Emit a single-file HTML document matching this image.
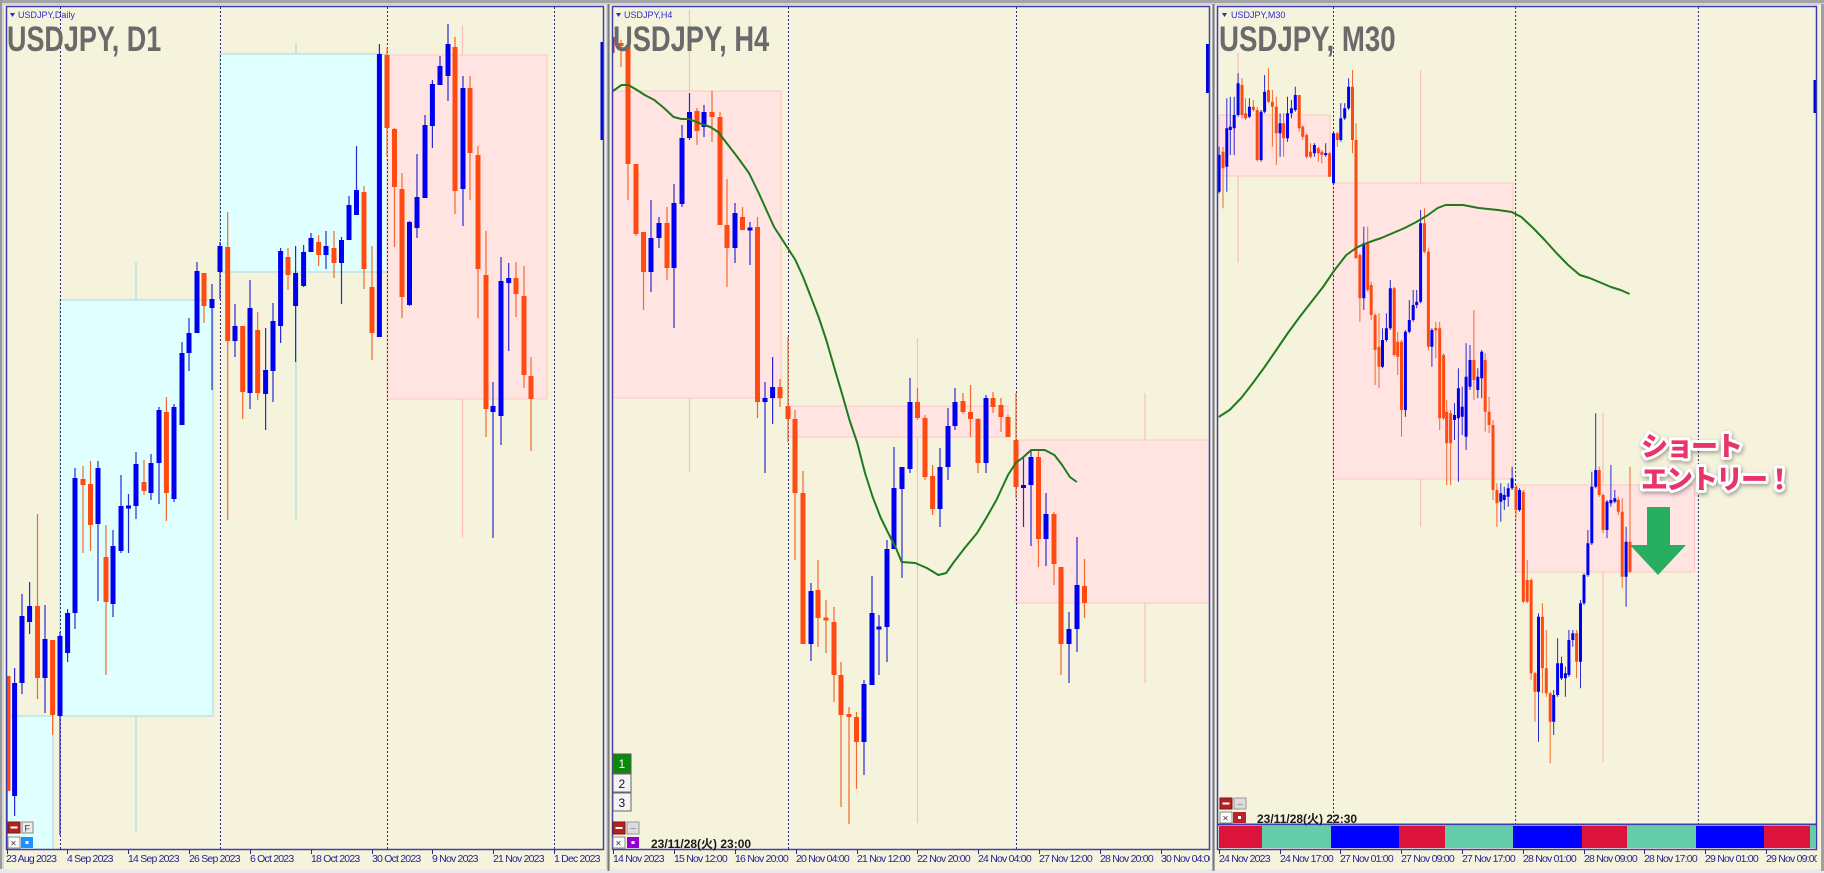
<!DOCTYPE html>
<html><head><meta charset="utf-8"><style>
html,body{margin:0;padding:0;background:#d6d6d6;}
svg{display:block;}
.ax{font-family:"Liberation Sans",sans-serif;font-size:10.5px;fill:#23239b;letter-spacing:-0.8px;}
.st{font-family:"Liberation Sans",sans-serif;font-size:9px;fill:#2b2bd0;}
.bt{font-family:"Liberation Sans",sans-serif;font-size:35px;font-weight:bold;fill:#6a6a6a;}
.dt{font-family:"Liberation Sans","Noto Sans CJK JP",sans-serif;font-size:12px;font-weight:bold;fill:#1a1a1a;}
.jp{font-family:"Noto Sans CJK JP","Liberation Sans",sans-serif;font-size:27px;font-weight:900;fill:#e8336b;stroke:#fff;stroke-width:6px;stroke-linejoin:round;paint-order:stroke;letter-spacing:-2px;}
</style></head><body>
<svg width="1824" height="873" viewBox="0 0 1824 873" xmlns="http://www.w3.org/2000/svg">
<defs>
<clipPath id="c1"><rect x="6" y="7" width="597" height="842"/></clipPath>
<clipPath id="c2"><rect x="612" y="7" width="598" height="842"/></clipPath>
<clipPath id="c3"><rect x="1217" y="7" width="600" height="817"/></clipPath>
<clipPath id="l2"><rect x="612" y="849" width="598" height="22"/></clipPath>
<clipPath id="l3"><rect x="1217" y="849" width="600" height="22"/></clipPath>
</defs>
<rect x="0" y="0" width="1824" height="873" fill="#d6d6d6"/>
<rect x="0" y="0" width="1824" height="3" fill="#a4a4a4"/>
<rect x="0" y="0" width="2" height="873" fill="#9a9a9a"/>
<rect x="0" y="869" width="1824" height="4" fill="#e9e9e9"/>
<rect x="4" y="5" width="602" height="864" fill="#f5f3dc"/>
<rect x="610" y="5" width="602" height="864" fill="#f5f3dc"/>
<rect x="1215" y="5" width="606" height="864" fill="#f5f3dc"/>
<rect x="607.5" y="4" width="2" height="867" fill="#7c7c7c"/>
<rect x="1212.5" y="4" width="2" height="867" fill="#7c7c7c"/>
<rect x="1821" y="4" width="3" height="867" fill="#a0a0a0"/>

<!-- PANEL 1 D1 -->
<g clip-path="url(#c1)">
<rect x="6" y="716" width="47" height="140" fill="#e0ffff" stroke="#a6d9df"/>
<rect x="60" y="300" width="153" height="416" fill="#e0ffff" stroke="#a6d9df"/>
<rect x="220" y="54" width="167" height="218" fill="#e0ffff" stroke="#a6d9df"/>
<rect x="387" y="55" width="160" height="344" fill="#ffe4e1" stroke="#ffc6c6"/>
<path d="M136 262V300M136 716V832M296 44V54M296 272V520" stroke="#a6d9df" stroke-width="1.2"/>
<path d="M462.5 25V55M462.5 399V538" stroke="#ffbcbc" stroke-width="1.2"/>
<path d="M60.5 7V849M220.5 7V849M387.5 7V849M554.5 7V849" stroke="#2a2a80" stroke-width="1" stroke-dasharray="2 2"/>
<path d="M7 676V849" stroke="#c03030" stroke-width="1.5"/>
<path d="M37.5 514V699M52.6 640V735M83 466V553M90.5 461V551M106 525V675M144 460V495M166.4 397V521M204 273V323M227.7 212V520M242.7 326V419M257.7 312V400M288 248V290M318.6 235V266M334 231V278M364 186V289M372 246V360M387 47V157M394.5 128V247M402 173V318M455 37V214M470 76V200M478 146V318M486 231V437M516 262V317M524 266V388M531 357V451" stroke="#f26a2e" stroke-width="1.2"/>
<path d="M5.5 676h5V791h-5zM35 606h5V678h-5zM50.1 640h5V715h-5zM80.5 479h5V485h-5zM88 484h5V525h-5zM103.5 557h5V602h-5zM141.5 482h5V491h-5zM163.9 412h5V493h-5zM201.5 273h5V306h-5zM225.2 247h5V341h-5zM240.2 326h5V392h-5zM255.2 330h5V393h-5zM285.5 257h5V275h-5zM316.1 242h5V255h-5zM331.5 248h5V263h-5zM361.5 192h5V269h-5zM369.5 287h5V333h-5zM384.5 55h5V128h-5zM392 129h5V187h-5zM399.5 189h5V297h-5zM452.5 47h5V191h-5zM467.5 88h5V153h-5zM475.5 155h5V269h-5zM483.5 275h5V409h-5zM513.5 278h5V294h-5zM521.5 296h5V375h-5zM528.5 376h5V399h-5z" fill="#ff4a12"/>
<path d="M14.6 668V816M22 594V694M29.6 582V634M45 605V713M60 632V835M67.6 609V662M75 468V629M98 461V601M113 530V617M121 475V553M128.5 494V553M136 452V519M151 454V500M159 407V504M174 404V502M182 342V425M189 318V371M197 262V333M212 284V390M220 242V299M235 304V357M250 280V409M265.6 328V430M273 303V402M280.6 248V343M295.6 246V362M303.6 245V287M311 233V252M326 231V269M341.5 237V304M349 196V240M356.5 146V215M379.4 44V337M409.5 221V306M417 154V238M425 115V198M432.4 80V148M440 56V85M448 24V101M463 76V226M493 382V538M501 257V445M508.7 263V351" stroke="#2a2ad0" stroke-width="1.2"/>
<path d="M12.1 683h5V796h-5zM19.5 616h5V683h-5zM27.1 606h5V622h-5zM42.5 639h5V678h-5zM57.5 636h5V716h-5zM65.1 613h5V653h-5zM72.5 478h5V613h-5zM95.5 468h5V524h-5zM110.5 546h5V604h-5zM118.5 506h5V551h-5zM126 505.5h5V508.5h-5zM133.5 464h5V506h-5zM148.5 463h5V493h-5zM156.5 410h5V463h-5zM171.5 407h5V499h-5zM179.5 353h5V425h-5zM186.5 333h5V353h-5zM194.5 271h5V333h-5zM209.5 299h5V308h-5zM217.5 246h5V272h-5zM232.5 326h5V341h-5zM247.5 308h5V393h-5zM263.1 370h5V394h-5zM270.5 321h5V371h-5zM278.1 251h5V326h-5zM293.1 273h5V306h-5zM301.1 252h5V286h-5zM308.5 238h5V252h-5zM323.5 246h5V255h-5zM339 240h5V263h-5zM346.5 205h5V240h-5zM354 190h5V215h-5zM376.9 54h5V337h-5zM407 222h5V305h-5zM414.5 197h5V228h-5zM422.5 125h5V198h-5zM429.9 84h5V126h-5zM437.5 66h5V85h-5zM445.5 44h5V76h-5zM460.5 88h5V189h-5zM490.5 406h5V412h-5zM498.5 281h5V416h-5zM506.2 278h5V283h-5z" fill="#0000f0"/>
<rect x="600.5" y="42" width="3" height="98" fill="#0000e0"/>
</g>
<rect x="6.5" y="6.5" width="597" height="843" fill="none" stroke="#3e3eae" stroke-width="1.5"/>

<!-- PANEL 2 H4 -->
<g clip-path="url(#c2)">
<rect x="613" y="91" width="168" height="307" fill="#ffe4e1" stroke="#ffc6c6"/>
<rect x="788" y="406" width="220" height="31" fill="#ffe4e1" stroke="#ffc6c6"/>
<rect x="1016" y="440" width="194" height="163" fill="#ffe4e1" stroke="#ffc6c6"/>
<path d="M689.5 10V91M689.5 398V472M917.5 338V406M917.5 437V823M1145 393V440M1145 603V683" stroke="#ffbcbc" stroke-width="1.2"/>
<path d="M788.5 7V849M1016.5 7V849" stroke="#2a2a80" stroke-width="1" stroke-dasharray="2 2"/>
<path d="M613.5 37V53" stroke="#c02040" stroke-width="2"/>
<path d="M621 40V67M628 45V200M636 164V236M643.5 232V310M667 207V280M697 108V145M712 91V142M720 112V225M727 179V287M742.5 207V230M757.5 217V418M780 379V407M788 337V442M795 410V560M803 471V644M818 560V647M826 600V653M834 607V702M841 662V807M849 707V824M856.5 712V789M917.5 388V420M925 415V480M932.6 465V515M963 393V414M970.5 385V437M978 418V473M993 392V413M1001 398V432M1008 415V437M1016 393V498M1038.5 450V567M1054 512V585M1061 567V675M1084.5 559V618" stroke="#f26a2e" stroke-width="1.2"/>
<path d="M618.5 43h5V46h-5zM625.5 45h5V164h-5zM633.5 164h5V234h-5zM641 232h5V272h-5zM664.5 223h5V268h-5zM694.5 111h5V131h-5zM709.5 112h5V117h-5zM717.5 117h5V225h-5zM724.5 225h5V248h-5zM740 217h5V230h-5zM755 227h5V402h-5zM777.5 387h5V398h-5zM785.5 406h5V419h-5zM792.5 419h5V493h-5zM800.5 493h5V644h-5zM815.5 590h5V618h-5zM823.5 617.5h5V620.5h-5zM831.5 622h5V675h-5zM838.5 675h5V715h-5zM846.5 714h5V717h-5zM854 717h5V742h-5zM915 402h5V418h-5zM922.5 418h5V477h-5zM930.1 476h5V509h-5zM960.5 401h5V412h-5zM968 412h5V419h-5zM975.5 419h5V463h-5zM990.5 398h5V407h-5zM998.5 405h5V417h-5zM1005.5 417h5V437h-5zM1013.5 440h5V487h-5zM1036 457h5V539h-5zM1051.5 514h5V564h-5zM1058.5 567h5V644h-5zM1082 586h5V603h-5z" fill="#ff4a12"/>
<path d="M651 200V292M659 217V248M674 184V328M682 125V207M689.5 93V140M704 105V137M735 203V263M750 222V265M765 382V473M772.6 357V424M811 583V661M864 680V775M872 576V685M879 615V675M887 540V662M894 447V549M902 467V578M910 378V473M940 448V527M948 408V480M955 388V430M986 395V473M1023.5 458V527M1031 450V546M1046 493V566M1069 612V683M1077 537V652" stroke="#2a2ad0" stroke-width="1.2"/>
<path d="M648.5 238h5V272h-5zM656.5 223h5V238h-5zM671.5 203h5V268h-5zM679.5 138h5V204h-5zM687 112h5V138h-5zM701.5 112h5V127h-5zM732.5 213h5V248h-5zM747.5 227.5h5V230.5h-5zM762.5 398h5V402h-5zM770.1 387h5V398h-5zM808.5 591h5V644h-5zM861.5 684h5V742h-5zM869.5 613h5V685h-5zM876.5 626.5h5V629.5h-5zM884.5 549h5V627h-5zM891.5 488h5V549h-5zM899.5 467h5V489h-5zM907.5 402h5V469h-5zM937.5 467h5V509h-5zM945.5 426h5V467h-5zM952.5 402h5V426h-5zM983.5 398h5V463h-5zM1021 485h5V488h-5zM1028.5 457h5V485h-5zM1043.5 514h5V539h-5zM1066.5 629h5V644h-5zM1074.5 585h5V629h-5z" fill="#0000f0"/>
<polyline fill="none" stroke="#1e7a1e" stroke-width="2" stroke-linejoin="round" points="613,91 621.5,85 628.4,85 637,90 644.7,95 654.3,100 664,108 673.6,117 681.4,119 689.1,119 698.8,123 710.4,127 718.1,132 725.8,142 737.4,157 749,173 758.7,193 766.4,210 774.1,227 787.7,248 795.4,260 803.1,277 810.9,297 818.6,317 826.3,340 834.1,367 841.8,393 849.5,420 857.3,443 865,473 872.7,497 880.4,517 888.2,533 895.9,548 901.7,562 915.2,563 926.8,568 938.4,575 946.2,573 953.9,562 965.5,547 977.1,533 986.8,517 996.4,500 1008,475 1015.7,463 1023.5,457 1031.2,450 1044.7,450 1054.4,455 1062.1,465 1069.9,477 1076.8,482"/>
<rect x="1206" y="44" width="3" height="49" fill="#0000e0"/>
</g>
<rect x="612.5" y="6.5" width="597" height="843" fill="none" stroke="#3e3eae" stroke-width="1.5"/>

<!-- PANEL 3 M30 -->
<g clip-path="url(#c3)">
<rect x="1219" y="115" width="111" height="61" fill="#ffe4e1" stroke="#ffc6c6"/>
<rect x="1333" y="183" width="180" height="296" fill="#ffe4e1" stroke="#ffc6c6"/>
<rect x="1515.6" y="485" width="179" height="87" fill="#ffe4e1" stroke="#ffc6c6"/>
<path d="M1238 53V115M1238 176V263M1420.6 70V183M1420.6 479V527M1603 413V485M1603 572V762" stroke="#ffbcbc" stroke-width="1.2"/>
<path d="M1333.5 7V824M1515.6 7V824M1698.4 7V824" stroke="#2a2a80" stroke-width="1" stroke-dasharray="2 2"/>
<path d="M1223 146.7V208.3M1242 78.3V118.3M1245.5 98.3V120M1253.3 100V111.7M1257.2 106.7V161.7M1268.5 68.3V103.3M1272.4 90V146.7M1276.3 96.7V165M1283.6 113.3V156.7M1299.2 95V131.7M1302.7 125V140M1306.6 133.3V158.3M1310.5 143.3V158.3M1318.3 146.7V161.7M1321.8 150V163.3M1329.6 151.7V176.7M1337.3 131.7V146.7M1352.5 70V153.3M1356 123.3V258.3M1359.9 253.3V321.7M1367.7 226.7V291.7M1371.2 281.7V320M1375.1 313.3V385M1379 313.3V388.3M1394.2 286.7V356.7M1397.7 331.7V375M1401.5 340V436.7M1424.5 208.3V253.3M1428.4 248.3V350M1435.8 321.7V358.3M1439.7 321.7V430M1443.6 353.3V420M1446.7 400V485M1450.6 410V485M1473.9 310V400M1485.2 353.3V431.7M1489.1 396.7V433.3M1493 420V500M1496.9 483.3V526.7M1516 485V518.3M1523.3 490V603.3M1527.2 560V603.3M1531.1 578.3V680M1535 671.7V721.7M1542.4 603.3V693.3M1546.3 630V696.7M1550.2 691.7V763.3M1576.6 630V678.3M1599.2 466.7V496.7M1603.1 493.3V533.3M1618.3 496.7V515M1622.2 498.3V588.3M1630 466.7V573.3" stroke="#f26a2e" stroke-width="1"/>
<path d="M1221.5 151.7h3V168.3h-3zM1240.5 85h3V115h-3zM1244 113.3h3V118.3h-3zM1251.8 106.7h3V110h-3zM1255.7 110h3V160h-3zM1267 90h3V101.7h-3zM1270.9 101.7h3V106.7h-3zM1274.8 106.7h3V133.3h-3zM1282.1 123.3h3V138.3h-3zM1297.7 95h3V128.3h-3zM1301.2 126.7h3V136.7h-3zM1305.1 135h3V156.7h-3zM1309 151.7h3V156.7h-3zM1316.8 148.3h3V153.3h-3zM1320.3 151.7h3V155h-3zM1328.1 153.3h3V176.7h-3zM1335.8 133.3h3V140h-3zM1351 86.7h3V140h-3zM1354.5 140h3V258.3h-3zM1358.4 255h3V298.3h-3zM1366.2 243.3h3V290h-3zM1369.7 285h3V315h-3zM1373.6 315h3V350h-3zM1377.5 346.7h3V366.7h-3zM1392.7 288.3h3V355h-3zM1396.2 341.7h3V356.7h-3zM1400 341.7h3V410h-3zM1423 223.3h3V251.7h-3zM1426.9 251.7h3V346.7h-3zM1434.3 328h3V330.5h-3zM1438.2 328.3h3V418.3h-3zM1442.1 355h3V418.3h-3zM1445.2 411.7h3V443.3h-3zM1449.1 413.3h3V443.3h-3zM1472.4 360h3V380h-3zM1483.7 360h3V411.7h-3zM1487.6 411.7h3V425h-3zM1491.5 425h3V490h-3zM1495.4 490h3V503.3h-3zM1514.5 486.7h3V510h-3zM1521.8 491.7h3V601.7h-3zM1525.7 580h3V601.7h-3zM1529.6 580h3V673.3h-3zM1533.5 673.3h3V691.7h-3zM1540.9 616.7h3V668.3h-3zM1544.8 668.3h3V693.3h-3zM1548.7 693.3h3V721.7h-3zM1575.1 633.3h3V661.7h-3zM1597.7 470h3V495h-3zM1601.6 495h3V530h-3zM1616.8 500h3V511.7h-3zM1620.7 511.7h3V576.7h-3zM1628.5 541.7h3V571.7h-3z" fill="#ff4a12"/>
<path d="M1219.1 146.7V193.3M1226.8 98.3V191.7M1230.3 96.7V155M1234.2 96.7V155M1238.1 73.3V116.7M1249.4 98.3V118.3M1261.1 110V161.7M1264.6 75V113.3M1280.1 113.3V156.7M1287.5 96.7V141.7M1291.4 100V118.3M1295.3 86.7V111.7M1314.4 143.3V156.7M1325.7 143.3V156.7M1333.5 131.7V183.3M1340.8 103.3V141.7M1344.7 103.3V120M1348.6 78.3V110M1363.8 226.7V310M1382.5 328.3V368.3M1386.4 313.3V341.7M1390.3 280V330M1405.4 330V416.7M1409.3 300V333.3M1413.2 290V321.7M1416.7 290V308.3M1420.6 210V303.3M1431.9 328.3V366.7M1454.5 403.3V440M1458.4 368.3V481.7M1462.2 386.7V435M1466.1 343.3V450M1470 345V390M1477.8 368.3V398.3M1481.7 350V398.3M1500.8 483.3V521.7M1504.3 486.7V510M1508.2 483.3V506.7M1512.1 466.7V490M1519.5 488.3V511.7M1538.5 613.3V741.7M1553.7 690V735M1557.6 638.3V696.7M1561.5 656.7V680M1565.4 666.7V696.7M1568.9 630V676.7M1572.8 630V646.7M1580.5 600V688.3M1584 573.3V605M1587.9 530V576.7M1591.8 471.7V545M1595.7 413.3V488.3M1607 500V538.3M1610.9 465V506.7M1614.8 490V503.3M1626.1 526.7V606.7" stroke="#2a2ad0" stroke-width="1"/>
<path d="M1217.6 155h3V191.7h-3zM1225.3 128.3h3V166.7h-3zM1228.8 126.7h3V130h-3zM1232.7 115h3V128.3h-3zM1236.6 83.3h3V115h-3zM1247.9 106.7h3V116.7h-3zM1259.6 111.7h3V160h-3zM1263.1 91.7h3V111.7h-3zM1278.6 123.3h3V133.3h-3zM1286 113.3h3V138.3h-3zM1289.9 108.3h3V113.3h-3zM1293.8 95h3V110h-3zM1312.9 145h3V153.3h-3zM1324.2 153h3V155h-3zM1332 133.3h3V183.3h-3zM1339.3 118.3h3V140h-3zM1343.2 108.3h3V118.3h-3zM1347.1 86.7h3V108.3h-3zM1362.3 243.3h3V298.3h-3zM1381 340h3V366.7h-3zM1384.9 328.3h3V340h-3zM1388.8 288.3h3V328.3h-3zM1403.9 331.7h3V410h-3zM1407.8 320h3V331.7h-3zM1411.7 305h3V320h-3zM1415.2 301.7h3V305h-3zM1419.1 223.3h3V301.7h-3zM1430.4 330h3V346.7h-3zM1453 415h3V420h-3zM1456.9 388.3h3V418.3h-3zM1460.7 406.7h3V416.7h-3zM1464.6 376.7h3V436.7h-3zM1468.5 360h3V386.7h-3zM1476.3 376.7h3V390h-3zM1480.2 351.7h3V378.3h-3zM1499.3 493.3h3V501.7h-3zM1502.8 495h3V500h-3zM1506.7 488.3h3V496.7h-3zM1510.6 478.3h3V488.3h-3zM1518 490h3V510h-3zM1537 616.7h3V691.7h-3zM1552.2 695h3V721.7h-3zM1556.1 663.3h3V695h-3zM1560 663.3h3V678.3h-3zM1563.9 673.3h3V678.3h-3zM1567.4 640h3V675h-3zM1571.3 633.3h3V640h-3zM1579 603.3h3V661.7h-3zM1582.5 575h3V603.3h-3zM1586.4 543.3h3V575h-3zM1590.3 486.7h3V543.3h-3zM1594.2 470h3V486.7h-3zM1605.5 501.7h3V530h-3zM1609.4 500h3V503.3h-3zM1613.3 498.3h3V501.7h-3zM1624.6 541.7h3V576.7h-3z" fill="#0000f0"/>
<polyline fill="none" stroke="#1e7a1e" stroke-width="2" stroke-linejoin="round" points="1218.7,417 1229.6,410 1241.2,398 1252.9,383 1264.6,367 1276.3,350 1287.9,333 1299.6,317 1311.3,302 1323,287 1334.6,270 1346.3,255 1356,248 1361.9,245 1369.6,242 1381.3,238 1393,233 1404.7,228 1416.3,222 1428,215 1437.7,208 1445.5,205 1463,205 1478.6,208 1498,210 1511.7,212 1521.4,217 1533.1,228 1544.7,240 1556.4,253 1568.1,265 1579.8,275 1589.5,278 1599.2,282 1610.9,287 1620.6,290 1629.6,294"/>
<rect x="1813.5" y="80" width="3" height="33" fill="#0000e0"/>
</g>
<rect x="1217.5" y="6.5" width="599" height="843" fill="none" stroke="#3e3eae" stroke-width="1.5"/>
<!-- color bar -->
<rect x="1219" y="826" width="43" height="22" fill="#dc143c"/>
<rect x="1262" y="826" width="69" height="22" fill="#66cdaa"/>
<rect x="1331" y="826" width="68" height="22" fill="#0000ff"/>
<rect x="1399" y="826" width="46" height="22" fill="#dc143c"/>
<rect x="1445" y="826" width="68" height="22" fill="#66cdaa"/>
<rect x="1513" y="826" width="69" height="22" fill="#0000ff"/>
<rect x="1582" y="826" width="45" height="22" fill="#dc143c"/>
<rect x="1627" y="826" width="69" height="22" fill="#66cdaa"/>
<rect x="1696" y="826" width="68" height="22" fill="#0000ff"/>
<rect x="1764" y="826" width="46" height="22" fill="#dc143c"/>
<rect x="1810" y="826" width="6" height="22" fill="#66cdaa"/>
<path d="M1217.5 824.5H1816.5" stroke="#3e3eae" stroke-width="2"/>

<!-- Annotation -->
<g style="filter:drop-shadow(1px 2px 2px rgba(0,0,0,0.35))">
<text class="jp" x="1641" y="456">ショート</text>
<text class="jp" x="1641" y="489">エントリー！</text>
</g>
<polygon points="1647,507 1670,507 1670,545 1686,545 1658,575 1630,545 1647,545" fill="#27ae60"/>

<!-- Titles -->
<polygon points="10,13 15,13 12.5,17" fill="#2b2bd0"/>
<text class="st" x="18" y="18">USDJPY,Daily</text>
<polygon points="616,13 621,13 618.5,17" fill="#2b2bd0"/>
<text class="st" x="624" y="18">USDJPY,H4</text>
<polygon points="1222,13 1227,13 1224.5,17" fill="#2b2bd0"/>
<text class="st" x="1231" y="18">USDJPY,M30</text>
<text class="bt" transform="translate(7,51) scale(0.77,1)">USDJPY, D1</text>
<text class="bt" transform="translate(613,51) scale(0.78,1)">USDJPY, H4</text>
<text class="bt" transform="translate(1219,51) scale(0.79,1)">USDJPY, M30</text>

<!-- Time axis P1 -->
<path d="M7.5 850V854M67.5 850V854M128.5 850V854M189.5 850V854M250.5 850V854M311.5 850V854M372.5 850V854M432.5 850V854M493.5 850V854M554.5 850V854" stroke="#23239b" stroke-width="1"/>
<text class="ax" x="6" y="862">23 Aug 2023</text>
<text class="ax" x="67" y="862">4 Sep 2023</text>
<text class="ax" x="128" y="862">14 Sep 2023</text>
<text class="ax" x="189" y="862">26 Sep 2023</text>
<text class="ax" x="250" y="862">6 Oct 2023</text>
<text class="ax" x="311" y="862">18 Oct 2023</text>
<text class="ax" x="372" y="862">30 Oct 2023</text>
<text class="ax" x="432" y="862">9 Nov 2023</text>
<text class="ax" x="493" y="862">21 Nov 2023</text>
<text class="ax" x="554" y="862">1 Dec 2023</text>

<!-- Time axis P2 -->
<path d="M613.5 850V854M674.5 850V854M735.5 850V854M796.5 850V854M857.5 850V854M917.5 850V854M978.5 850V854M1039.5 850V854M1100.5 850V854M1161.5 850V854" stroke="#23239b" stroke-width="1"/>
<g clip-path="url(#l2)">
<text class="ax" x="613" y="862">14 Nov 2023</text>
<text class="ax" x="674" y="862">15 Nov 12:00</text>
<text class="ax" x="735" y="862">16 Nov 20:00</text>
<text class="ax" x="796" y="862">20 Nov 04:00</text>
<text class="ax" x="857" y="862">21 Nov 12:00</text>
<text class="ax" x="917" y="862">22 Nov 20:00</text>
<text class="ax" x="978" y="862">24 Nov 04:00</text>
<text class="ax" x="1039" y="862">27 Nov 12:00</text>
<text class="ax" x="1100" y="862">28 Nov 20:00</text>
<text class="ax" x="1161" y="862">30 Nov 04:00</text>
</g>

<!-- Time axis P3 -->
<path d="M1219.5 850V854M1280.5 850V854M1340.5 850V854M1401.5 850V854M1462.5 850V854M1523.5 850V854M1584.5 850V854M1644.5 850V854M1705.5 850V854M1766.5 850V854" stroke="#23239b" stroke-width="1"/>
<g clip-path="url(#l3)">
<text class="ax" x="1219" y="862">24 Nov 2023</text>
<text class="ax" x="1280" y="862">24 Nov 17:00</text>
<text class="ax" x="1340" y="862">27 Nov 01:00</text>
<text class="ax" x="1401" y="862">27 Nov 09:00</text>
<text class="ax" x="1462" y="862">27 Nov 17:00</text>
<text class="ax" x="1523" y="862">28 Nov 01:00</text>
<text class="ax" x="1584" y="862">28 Nov 09:00</text>
<text class="ax" x="1644" y="862">28 Nov 17:00</text>
<text class="ax" x="1705" y="862">29 Nov 01:00</text>
<text class="ax" x="1766" y="862">29 Nov 09:00</text>
</g>

<!-- Buttons P1 -->
<rect x="8" y="822" width="12" height="11" fill="#b22222" stroke="#7a1515"/>
<rect x="10.5" y="826.5" width="7" height="2" fill="#fff"/>
<rect x="22" y="822" width="11" height="11" fill="#ececec" stroke="#8a8a8a"/>
<text x="24.5" y="831.5" font-family="Liberation Sans,sans-serif" font-size="9" fill="#333">F</text>
<rect x="8" y="837" width="12" height="11" fill="#fafafa" stroke="#8a8a8a"/>
<text x="10.5" y="846.5" font-family="Liberation Sans,sans-serif" font-size="10" fill="#333">×</text>
<rect x="21" y="837" width="12" height="11" fill="#1e90ff"/>
<rect x="25.5" y="841" width="3" height="3" fill="#fff"/>

<!-- Buttons P2 -->
<rect x="613" y="754" width="18" height="19" fill="#0a8a0a" stroke="#555"/>
<text x="618.5" y="768" font-family="Liberation Sans,sans-serif" font-size="12" fill="#fff">1</text>
<rect x="613" y="774" width="18" height="18" fill="#f4f4f4" stroke="#666"/>
<text x="618.5" y="788" font-family="Liberation Sans,sans-serif" font-size="12" fill="#111">2</text>
<rect x="613" y="793" width="18" height="18" fill="#f4f4f4" stroke="#666"/>
<text x="618.5" y="807" font-family="Liberation Sans,sans-serif" font-size="12" fill="#111">3</text>
<rect x="613" y="822" width="12" height="12" fill="#b22222" stroke="#7a1515"/>
<rect x="615.5" y="827" width="7" height="2" fill="#fff"/>
<rect x="627" y="822" width="12" height="12" fill="#dcdcdc" stroke="#999"/>
<rect x="630.5" y="828" width="5" height="1" fill="#999"/>
<rect x="613" y="837" width="12" height="11" fill="#fafafa" stroke="#8a8a8a"/>
<text x="615.5" y="846.5" font-family="Liberation Sans,sans-serif" font-size="10" fill="#333">×</text>
<rect x="627" y="837" width="12" height="11" fill="#9400d3"/>
<rect x="631.5" y="841" width="3" height="3" fill="#fff"/>
<text class="dt" x="651" y="848">23/11/28(火) 23:00</text>

<!-- Buttons P3 -->
<rect x="1220" y="798" width="12" height="11" fill="#b22222" stroke="#7a1515"/>
<rect x="1222.5" y="802.5" width="7" height="2" fill="#fff"/>
<rect x="1234" y="798" width="12" height="11" fill="#dcdcdc" stroke="#999"/>
<rect x="1237.5" y="804" width="5" height="1" fill="#999"/>
<rect x="1220" y="812" width="12" height="11" fill="#fafafa" stroke="#8a8a8a"/>
<text x="1222.5" y="821.5" font-family="Liberation Sans,sans-serif" font-size="10" fill="#333">×</text>
<rect x="1233" y="812" width="13" height="11" fill="#c0202a"/>
<rect x="1238" y="816" width="3" height="3" fill="#fff"/>
<text class="dt" x="1257" y="823">23/11/28(火) 22:30</text>
</svg>
</body></html>
